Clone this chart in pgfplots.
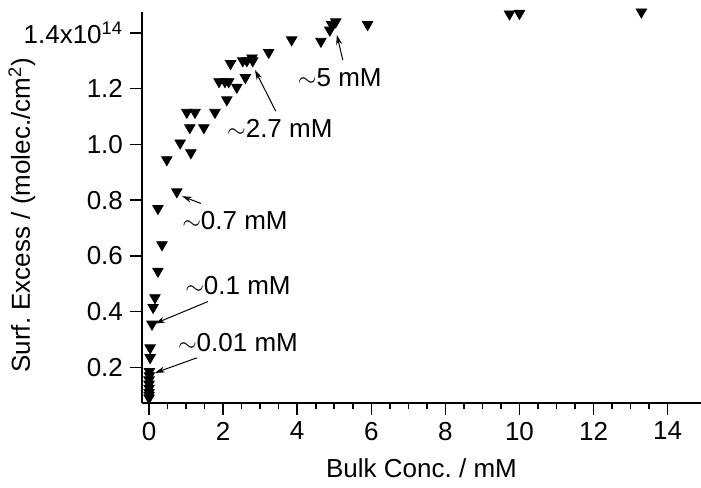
\documentclass[border=0pt]{standalone}
\usepackage{fontspec}
\setmainfont{Liberation Sans}
\usepackage{pgfplots}
\pgfplotsset{compat=1.18}
\usetikzlibrary{arrows.meta}
\frenchspacing

\begin{document}
\begin{tikzpicture}[font=\fontsize{13}{15}\selectfont]
\begin{axis}[
  at={(0,0)}, anchor=south west,
  scale only axis, width=279.5pt, height=195.5pt,
  xmin=-0.19, xmax=14.9, ymin=0.072, ymax=1.475,
  axis x line*=bottom, axis y line*=left,
  axis line style={-, line width=0.8pt},
  xtick={0,2,4,6,8,10,12,14},
  xticklabels={0,2,4,6,8,10,12,14},
  minor x tick num=3,
  ytick={0.2,0.4,0.6,0.8,1.0,1.2,1.4},
  yticklabels={0.2,0.4,0.6,0.8,1.0,1.2,1.4x10\textsuperscript{14}},
  tick align=outside, major tick length=6pt, minor tick length=3pt,
  tick style={black, line width=0.8pt},
  xlabel={Bulk Conc.\ / mM},
  xlabel style={at={(axis description cs:0.5,-0.166)}, anchor=center},
  ylabel={Surf.\ Excess / (molec./cm\textsuperscript{2})},
  ylabel style={at={(axis description cs:-0.215,0.48)}, anchor=center},
  clip=false,
]
\addplot[only marks, mark=triangle*, mark size=3pt, mark options={rotate=180, fill=black, draw=black}]
  coordinates {
  (0.00,0.09) (0.00,0.10) (0.00,0.11) (0.00,0.125) (0.00,0.14) (0.00,0.155)
  (0.01,0.17) (0.01,0.185) (0.03,0.235) (0.03,0.27) (0.08,0.355) (0.11,0.415)
  (0.16,0.45) (0.24,0.545) (0.35,0.64) (0.24,0.77) (0.75,0.83) (0.48,0.945)
  (0.84,1.005) (1.13,0.97) (1.10,1.06) (1.48,1.06) (1.02,1.115) (1.24,1.115)
  (1.78,1.115) (2.10,1.16) (1.89,1.225) (2.05,1.225) (2.15,1.225) (2.37,1.205)
  (2.60,1.24) (2.20,1.29) (2.53,1.30) (2.64,1.30) (2.78,1.31) (2.80,1.30)
  (3.23,1.33) (3.85,1.375) (4.64,1.37) (4.88,1.41) (4.93,1.43) (5.04,1.44)
  (5.90,1.43) (9.73,1.468) (10.0,1.47) (13.29,1.475)
  };

% annotations
\node at (axis cs:5.15,1.238) {$\sim$5 mM};
\draw[-{Stealth[length=5pt,width=3pt]}, line width=0.5pt] (axis cs:5.23,1.303) -- (axis cs:5.07,1.393);
\node at (axis cs:3.53,1.058) {$\sim$2.7 mM};
\draw[-{Stealth[length=5pt,width=3pt]}, line width=0.5pt] (axis cs:3.42,1.119) -- (axis cs:2.86,1.267);
\node at (axis cs:2.32,0.727) {$\sim$0.7 mM};
\draw[-{Stealth[length=5pt,width=3pt]}, line width=0.5pt] (axis cs:1.40,0.788) -- (axis cs:0.89,0.814);
\node at (axis cs:2.40,0.494) {$\sim$0.1 mM};
\draw[-{Stealth[length=5pt,width=3pt]}, line width=0.5pt] (axis cs:1.59,0.436) -- (axis cs:0.16,0.357);
\node at (axis cs:2.40,0.289) {$\sim$0.01 mM};
\draw[-{Stealth[length=5pt,width=3pt]}, line width=0.5pt] (axis cs:1.29,0.234) -- (axis cs:0.16,0.18);
\end{axis}
\pgfresetboundingbox
\path[use as bounding box] (-71pt,-42pt) rectangle (279.5pt,201.5pt);
\end{tikzpicture}
\end{document}
